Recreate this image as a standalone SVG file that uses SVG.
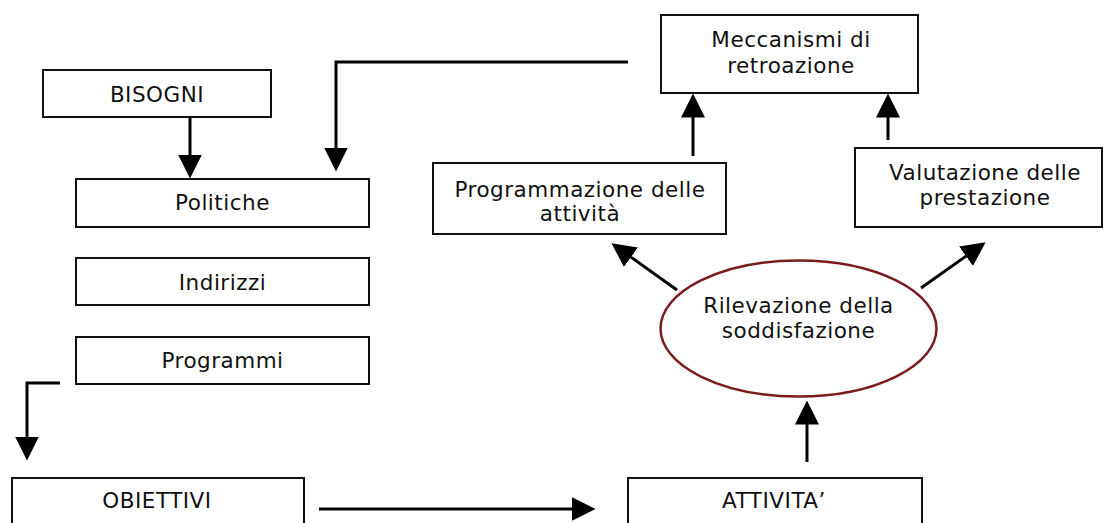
<svg xmlns="http://www.w3.org/2000/svg" width="1105" height="523" viewBox="0 0 1105 523">
<style>
.box{fill:#fff;stroke:#111;stroke-width:2}
.ell{fill:#fff;stroke:#7b1c1c;stroke-width:2.5}
.t{font-family:"DejaVu Sans",Verdana,sans-serif;font-size:21.5px;letter-spacing:0.5px;fill:#111;text-anchor:middle}
.c{fill:none;stroke:#000;stroke-width:3}
</style>
<defs>
<marker id="ah" markerUnits="userSpaceOnUse" markerWidth="24" markerHeight="24" viewBox="0 0 24 24" refX="0.5" refY="12" orient="auto">
<path d="M0,0 L24,12 L0,24 z" fill="#000"/>
</marker>
</defs>
<rect width="1105" height="523" fill="#fff"/>
<g id="bisogni"><rect class="box" x="43" y="70" width="228" height="47"/><text class="t" x="157" y="102">BISOGNI</text></g>
<g id="politiche"><rect class="box" x="76" y="179" width="293" height="48"/><text class="t" x="222.5" y="210">Politiche</text></g>
<g id="indirizzi"><rect class="box" x="76" y="258" width="293" height="47"/><text class="t" x="222.5" y="290">Indirizzi</text></g>
<g id="programmi"><rect class="box" x="76" y="337" width="293" height="47"/><text class="t" x="222.5" y="368">Programmi</text></g>
<g id="obiettivi"><rect class="box" x="12" y="478" width="292" height="60"/><text class="t" x="157" y="508">OBIETTIVI</text></g>
<g id="attivita"><rect class="box" x="628" y="478" width="294" height="60"/><text class="t" x="774" y="508">ATTIVITA’</text></g>
<g id="meccanismi"><rect class="box" x="661" y="15" width="257" height="78"/><text class="t" x="791" y="47">Meccanismi di</text><text class="t" x="791" y="73">retroazione</text></g>
<g id="programmazione"><rect class="box" x="433" y="163" width="293" height="71"/><text class="t" x="580" y="197">Programmazione delle</text><text class="t" x="580" y="221">attività</text></g>
<g id="valutazione"><rect class="box" x="855" y="148" width="247" height="79"/><text class="t" x="985" y="180">Valutazione delle</text><text class="t" x="985" y="205">prestazione</text></g>
<g id="rilevazione"><ellipse class="ell" cx="798.5" cy="328.5" rx="138" ry="68"/><text class="t" x="798.5" y="313">Rilevazione della</text><text class="t" x="798.5" y="338">soddisfazione</text></g>
<g id="connectors">
<path class="c" d="M190,117 V155" marker-end="url(#ah)"/>
<path class="c" d="M628,62 H336 V148" marker-end="url(#ah)"/>
<path class="c" d="M60,383 H27 V437" marker-end="url(#ah)"/>
<path class="c" d="M319,509 H572" marker-end="url(#ah)"/>
<path class="c" d="M807,462 V424" marker-end="url(#ah)"/>
<path class="c" d="M693,156 V117" marker-end="url(#ah)"/>
<path class="c" d="M888,140 V117" marker-end="url(#ah)"/>
<path class="c" d="M677,290 L630.6,256.9" marker-end="url(#ah)"/>
<path class="c" d="M921,288 L966.4,255.9" marker-end="url(#ah)"/>
</g>
</svg>
